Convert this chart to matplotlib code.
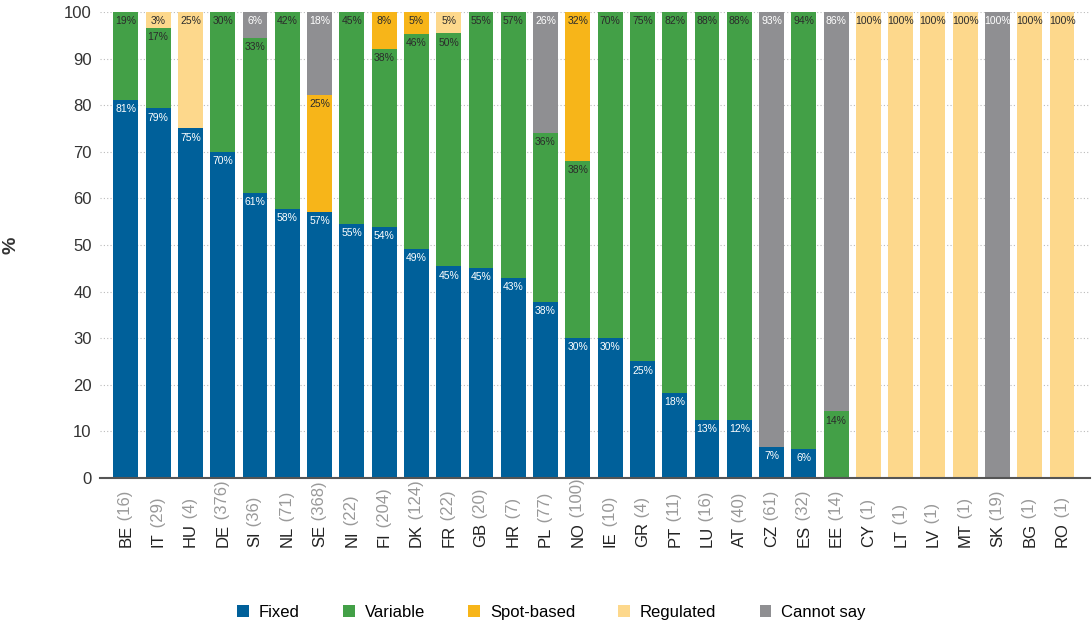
import numpy as np
import matplotlib.pyplot as plt

plt.rcParams['font.family'] = ['Liberation Sans', 'DejaVu Sans']

countries = ['BE', 'IT', 'HU', 'DE', 'SI', 'NL', 'SE', 'NI', 'FI', 'DK', 'FR', 'GB', 'HR', 'PL', 'NO',
             'IE', 'GR', 'PT', 'LU', 'AT', 'CZ', 'ES', 'EE', 'CY', 'LT', 'LV', 'MT', 'SK', 'BG', 'RO']
counts = [16, 29, 4, 376, 36, 71, 368, 22, 204, 124, 22, 20, 7, 77, 100,
          10, 4, 11, 16, 40, 61, 32, 14, 1, 1, 1, 1, 19, 1, 1]

fixed = [81.2, 79.3, 75, 70, 61.1, 57.7, 57.1, 54.6, 53.9, 49.2, 45.4, 45, 42.9, 37.7, 30,
         30, 25, 18.2, 12.5, 12.4, 6.6, 6.3, 0, 0, 0, 0, 0, 0, 0, 0]
variable = [18.8, 17.3, 0, 30, 33.3, 42.3, 0, 45.4, 38.2, 46, 50, 55, 57.1, 36.4, 38,
            70, 75, 81.8, 87.5, 87.6, 0, 93.7, 14.3, 0, 0, 0, 0, 0, 0, 0]
spot = [0, 0, 0, 0, 0, 0, 25, 0, 7.9, 4.8, 0, 0, 0, 0, 32,
        0, 0, 0, 0, 0, 0, 0, 0, 0, 0, 0, 0, 0, 0, 0]
regulated = [0, 3.4, 25, 0, 0, 0, 0, 0, 0, 0, 4.6, 0, 0, 0, 0,
             0, 0, 0, 0, 0, 0, 0, 0, 100, 100, 100, 100, 0, 100, 100]
cannot_say = [0, 0, 0, 0, 5.6, 0, 17.9, 0, 0, 0, 0, 0, 0, 25.9, 0,
              0, 0, 0, 0, 0, 93.4, 0, 85.7, 0, 0, 0, 0, 100, 0, 0]

series = [('Fixed', fixed, '#00609a', 'white'),
          ('Variable', variable, '#43a047', '#2b2b2b'),
          ('Spot-based', spot, '#f7b519', '#2b2b2b'),
          ('Regulated', regulated, '#fdd88c', '#2b2b2b'),
          ('Cannot say', cannot_say, '#8f8f92', 'white')]

fig = plt.figure(figsize=(10.92, 6.26), dpi=100)
ax = fig.add_axes([0.0916, 0.2364, 0.9064, 0.7446])

x = np.arange(len(countries))
bottom = np.zeros(len(countries))
for name, vals, color, tcol in series:
    vals = np.array(vals, dtype=float)
    ax.bar(x, vals, bottom=bottom, width=0.77, color=color, label=name, zorder=2)
    for xi, v, b in zip(x, vals, bottom):
        if v > 0:
            top = min(b + v, 100)
            ax.annotate(f'{int(v + 0.5)}%', xy=(xi, top), xytext=(0, -3), textcoords='offset points',
                        ha='center', va='top', fontsize=7.5, color=tcol, zorder=3)
    bottom += vals

ax.set_xlim(-0.8, len(countries) - 0.14)
ax.set_ylim(0, 100)
ax.set_yticks(np.arange(0, 101, 10))
ax.tick_params(axis='y', length=0, labelsize=12, colors='#333333', pad=6)
ax.tick_params(axis='x', length=0, labelbottom=False)
ax.yaxis.grid(True, linestyle=(0, (1, 2)), color='#bbbbbb', linewidth=0.8, zorder=0)
for s in ['left', 'right', 'top']:
    ax.spines[s].set_visible(False)
ax.spines['bottom'].set_color('#555555')
ax.spines['bottom'].set_linewidth(1.5)
ax.spines['bottom'].set_zorder(4)

ax.set_ylabel('%', fontsize=14, fontweight='bold', color='#333333')
ax.yaxis.set_label_coords(-0.081, 0.5)

for xi, c, n in zip(x, countries, counts):
    t = ax.text(xi, -0.148, c, transform=ax.get_xaxis_transform(), rotation=90,
                ha='center', va='bottom', fontsize=12, color='#222222')
    ax.annotate(f' ({n})', xy=(0.5, 1), xycoords=t, rotation=90, ha='center', va='bottom',
                fontsize=12, color='#999999')

fig.legend(loc='center', bbox_to_anchor=(0.505, 0.022), ncol=5, frameon=False, fontsize=12,
           handlelength=0.7, handleheight=0.7, handletextpad=0.6, columnspacing=2.6)

fig.savefig('out.png', dpi=100)
